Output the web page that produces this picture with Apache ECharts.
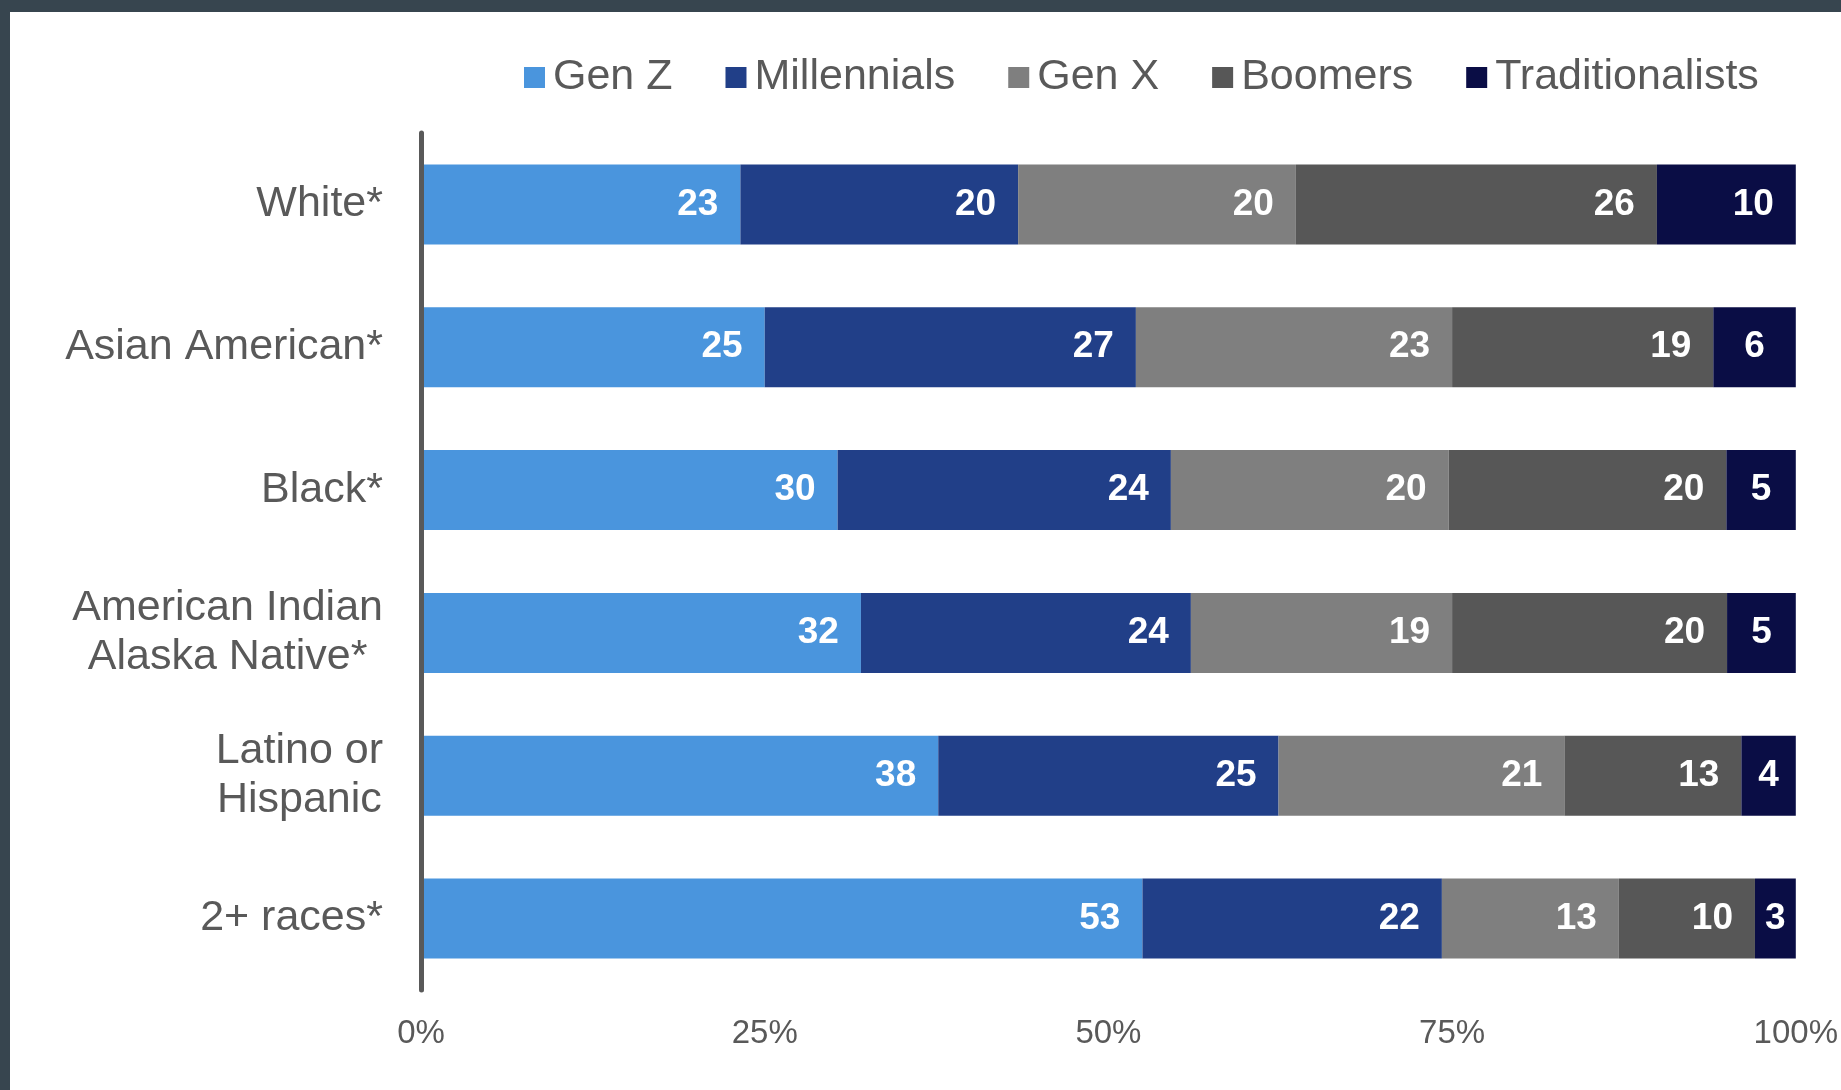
<!DOCTYPE html>
<html>
<head>
<meta charset="utf-8">
<script src="https://cdn.jsdelivr.net/npm/echarts@6/dist/echarts.min.js"></script>
<style>
  html, body { margin: 0; padding: 0; width: 1841px; height: 1090px; background: #37454f; overflow: hidden; }
  #chart { position: absolute; left: 10px; top: 12px; width: 1831px; height: 1078px; background: #ffffff; }
</style>
</head>
<body>
<div id="chart"></div>
<script>
// ---- data ----
const categories = ['White*', 'Asian American*', 'Black*', 'American Indian\nAlaska Native*', 'Latino or\nHispanic', '2+ races*'];
const seriesNames = ['Gen Z', 'Millennials', 'Gen X', 'Boomers', 'Traditionalists'];
const genZ = [23, 25, 30, 32, 38, 53];
const millennials = [20, 27, 24, 24, 25, 22];
const genX = [20, 23, 20, 19, 21, 13];
const boomers = [26, 19, 20, 20, 13, 10];
const traditionalists = [10, 6, 5, 5, 4, 3];
const xTicks = [0, 25, 50, 75, 100];

const seriesValues = [genZ, millennials, genX, boomers, traditionalists];
const seriesColors = ['#4a95dd', '#213f88', '#7f7f7f', '#575757', '#0a0d45'];

// 100% stacked: normalise each category by its row total
const rowTotals = categories.map((c, i) => seriesValues.reduce((s, arr) => s + arr[i], 0));

const labelFont = "'Liberation Sans Narrow', 'Arial Narrow', 'Liberation Sans', Arial, sans-serif";
const textFont = "'Liberation Sans', Arial, sans-serif";

const chart = echarts.init(document.getElementById('chart'));
chart.setOption({
  backgroundColor: '#ffffff',
  animation: false,
  legend: {
    data: seriesNames,
    left: 509,
    top: 39,
    icon: 'rect',
    itemWidth: 21,
    itemHeight: 21,
    itemGap: 53,
    textStyle: { fontSize: 43, color: '#595959', fontFamily: textFont, padding: [0, 0, 0, 3] }
  },
  grid: { left: 411, right: 40, top: 121, bottom: 100, containLabel: false },
  xAxis: {
    type: 'value',
    min: xTicks[0],
    max: xTicks[xTicks.length - 1],
    interval: 25,
    axisLine: { show: false },
    axisTick: { show: false },
    splitLine: { show: false },
    axisLabel: {
      formatter: '{value}%',
      fontSize: 33,
      color: '#595959',
      fontFamily: textFont,
      margin: 27
    }
  },
  yAxis: {
    type: 'category',
    data: categories,
    inverse: true,
    z: 5,
    axisLine: { show: true, lineStyle: { color: '#595959', width: 5 } },
    axisTick: { show: false },
    axisLabel: {
      margin: 38,
      formatter: v => v.split('\n').map(l => '{c|' + l + '}').join('\n'),
      rich: {
        c: { fontSize: 43, color: '#595959', fontFamily: textFont, align: 'center', lineHeight: 49 }
      }
    }
  },
  series: seriesNames.map((name, si) => ({
    name: name,
    type: 'bar',
    stack: 'total',
    barWidth: '56%',
    itemStyle: { color: seriesColors[si] },
    label: {
      show: true,
      position: 'insideRight',
      distance: 22,
      color: '#ffffff',
      fontWeight: 'bold',
      fontSize: 37,
      fontFamily: labelFont,
      formatter: p => String(seriesValues[si][p.dataIndex])
    },
    data: seriesValues[si].map((v, i) => {
      const pct = v / rowTotals[i] * 100;
      // narrow end segments have their label centred
      return pct < 7 ? { value: pct, label: { position: 'inside' } } : pct;
    })
  }))
});
</script>
</body>
</html>
